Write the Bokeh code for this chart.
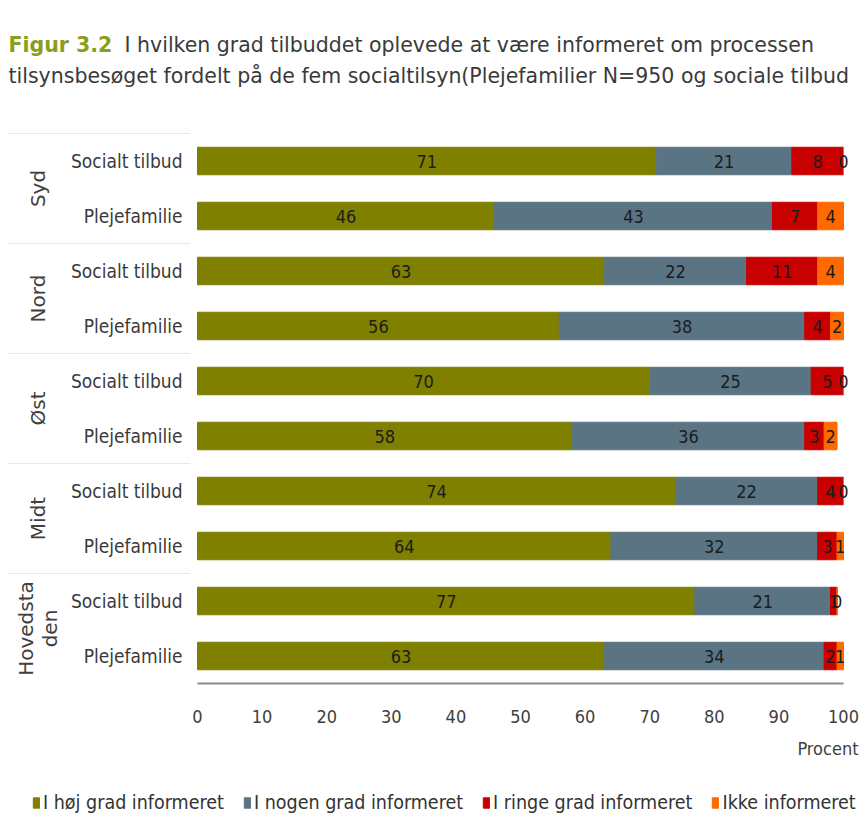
import math
from bokeh.plotting import figure
from bokeh.models import Range1d, ColumnDataSource, Legend, LegendItem
from bokeh.core.properties import value
from bokeh.embed import file_html
from bokeh.resources import INLINE

# Regions and respondent types
regions = ["Syd", "Nord", "Øst", "Midt", "Hovedsta\nden"]
types = ["Socialt tilbud", "Plejefamilie"]

# Percentages per row (Syd/Socialt tilbud, Syd/Plejefamilie, Nord/..., ...)
hoej = [71, 46, 63, 56, 70, 58, 74, 64, 77, 63]
nogen = [21, 43, 22, 38, 25, 36, 22, 32, 21, 34]
ringe = [8, 7, 11, 4, 5, 3, 4, 3, 1, 2]
ikke = [0, 4, 4, 2, 0, 2, 0, 1, 0, 1]

series_names = ["I høj grad informeret", "I nogen grad informeret",
                "I ringe grad informeret", "Ikke informeret"]
colors = ["#7f7f00", "#5a7483", "#c80000", "#ff6a00"]
x_ticks = list(range(0, 101, 10))

title_label = "Figur 3.2"
title_line1 = "I hvilken grad tilbuddet oplevede at være informeret om processen"
title_line2 = "tilsynsbesøget fordelt på de fem socialtilsyn(Plejefamilier N=950 og sociale tilbud"
x_caption = "Procent"

# ---- canvas geometry (pixels) ----
W, H = 860, 818
PX_X0, PX_X100 = 197, 843      # where 0 % and 100 % sit
PX_TOP, ROW_PX = 133, 55       # top of the bar area, height of one row
SX = (PX_X100 - PX_X0) / 100.0

def hx(px):
    """horizontal pixel -> x data units"""
    return (px - PX_X0) / SX

def vy(px):
    """vertical pixel (from top) -> row units"""
    return (px - PX_TOP) / ROW_PX

CAT_FONT = "DejaVu Sans Condensed"
GRP_FONT = "DejaVu Sans"
TITLE_FONT = "DejaVu Sans"

p = figure(width=W, height=H, output_backend="svg", toolbar_location=None,
           x_range=Range1d(hx(0), hx(W)), y_range=Range1d(vy(H), vy(0)),
           min_border=0, x_axis_type=None, y_axis_type=None)
p.outline_line_color = None
p.xgrid.grid_line_color = None
p.ygrid.grid_line_color = None

# ---- bars ----
n_rows = len(regions) * len(types)
row_y = [i + 0.5 for i in range(n_rows)]
row_type = [t for _ in regions for t in types]
keys = ["hoej", "nogen", "ringe", "ikke"]
series = [hoej, nogen, ringe, ikke]
source = ColumnDataSource(dict(y=row_y, hoej=hoej, nogen=nogen, ringe=ringe, ikke=ikke))
renderers = p.hbar_stack(keys, y="y", height=0.5, color=colors, source=source)

# value labels centred in each segment
lab_x, lab_y, lab_t = [], [], []
for i in range(n_rows):
    start = 0
    for vals in series:
        v = vals[i]
        lab_x.append(start + v / 2)
        lab_y.append(row_y[i])
        lab_t.append(str(v))
        start += v
p.text(x=lab_x, y=lab_y, text=lab_t, text_align="center", text_baseline="middle",
       text_font=value(CAT_FONT), text_font_size="18px", text_color="#1c1c1c")

# ---- category axis ----
p.text(x=[hx(182)] * n_rows, y=row_y, text=row_type, text_align="right",
       text_baseline="middle", text_font=value(CAT_FONT), text_font_size="19px",
       text_color="#3a3a3a")
grp_y = [2 * g + 1 for g in range(len(regions))]
p.text(x=[hx(37)] * len(regions), y=grp_y, text=regions, angle=math.pi / 2,
       text_align="center", text_baseline="middle", text_font=value(GRP_FONT),
       text_font_size="20px", text_color="#404040", text_line_height=1.0)
sep_y = [2 * g for g in range(len(regions))]
p.segment(x0=[hx(8)] * len(sep_y), x1=[hx(190)] * len(sep_y), y0=sep_y, y1=sep_y,
          line_color="#e8e8e8", line_width=1)

# ---- value axis ----
p.segment(x0=[0], x1=[100], y0=[n_rows], y1=[n_rows], line_color="#8c8c8c", line_width=2)
p.text(x=x_ticks, y=[vy(716)] * len(x_ticks), text=[str(t) for t in x_ticks],
       text_align="center", text_baseline="middle", text_font=value(CAT_FONT),
       text_font_size="18px", text_color="#404040")
p.text(x=[hx(858)], y=[vy(748)], text=[x_caption], text_align="right",
       text_baseline="middle", text_font=value(CAT_FONT), text_font_size="18px",
       text_color="#404040")

# ---- heading ----
p.text(x=[hx(8)], y=[vy(44)], text=[title_label], text_font=value(TITLE_FONT),
       text_font_size="20.5px", text_font_style="bold", text_color="#8a9e1e",
       text_baseline="middle")
p.text(x=[hx(124)], y=[vy(44)], text=[title_line1], text_font=value(TITLE_FONT),
       text_font_size="20.5px", text_color="#3a3a3a", text_baseline="middle")
p.text(x=[hx(8)], y=[vy(75)], text=[title_line2], text_font=value(TITLE_FONT),
       text_font_size="20.5px", text_color="#3a3a3a", text_baseline="middle")

# ---- legend ----
legend = Legend(items=[LegendItem(label=n, renderers=[r]) for n, r in zip(series_names, renderers)],
                orientation="horizontal", location=(32, 4),
                glyph_width=8, glyph_height=13, label_standoff=3, spacing=19,
                padding=0, margin=0, border_line_color=None, background_fill_alpha=0,
                label_text_font=CAT_FONT, label_text_font_size="19.5px",
                label_text_color="#333333")
p.add_layout(legend, "center")

open("out.html", "w").write(file_html(p, INLINE))
